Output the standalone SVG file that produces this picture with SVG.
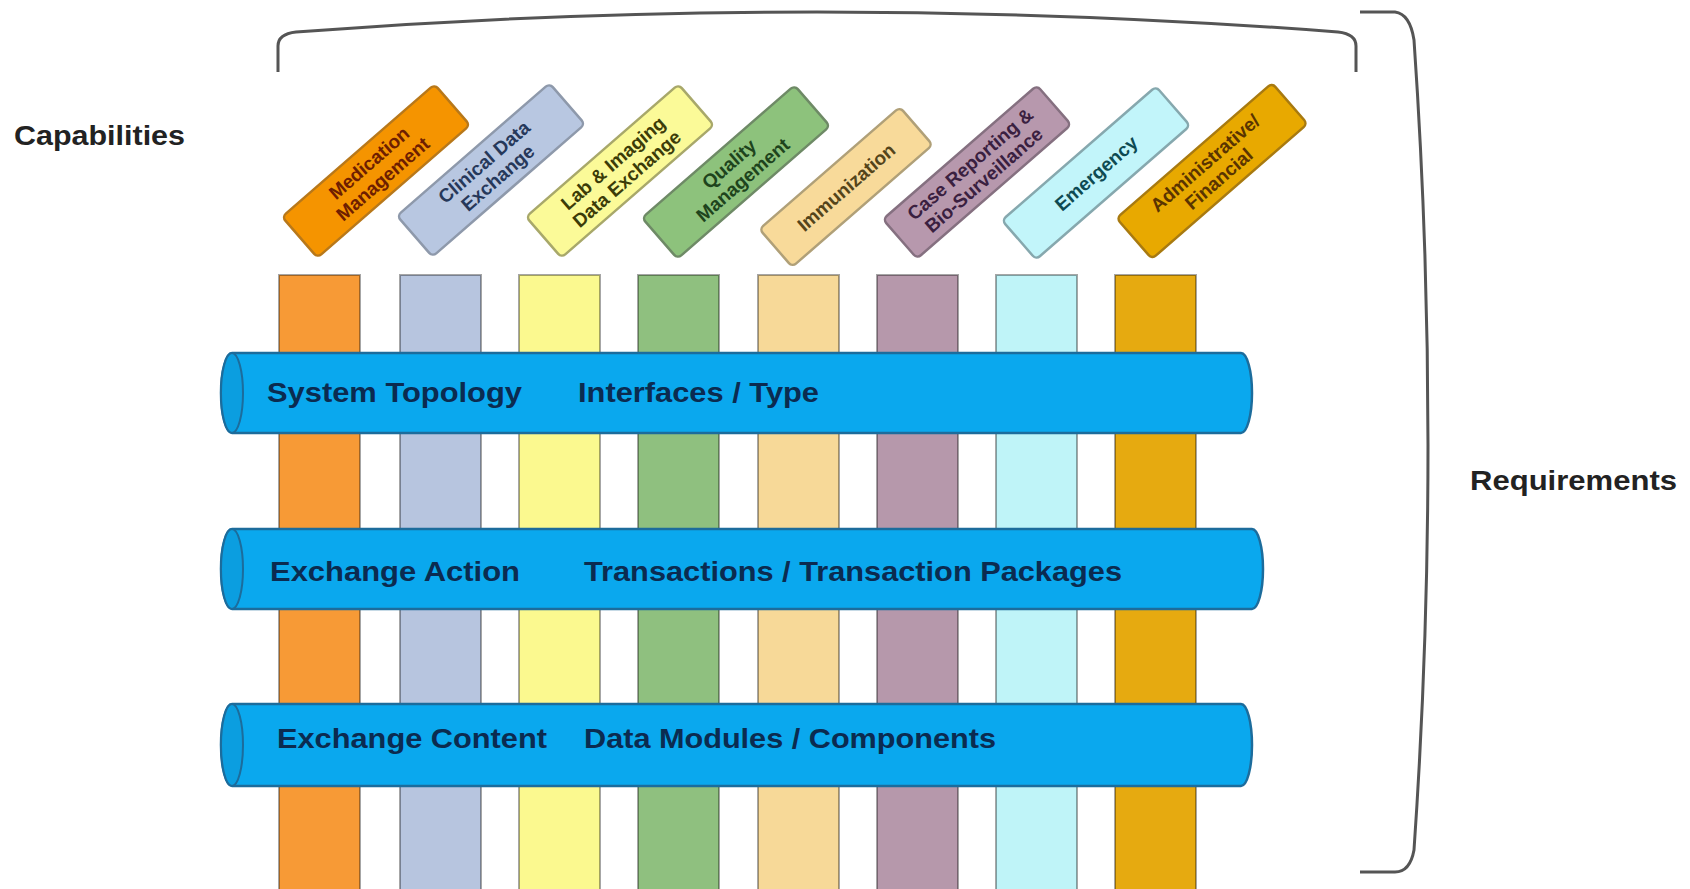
<svg xmlns="http://www.w3.org/2000/svg" width="1690" height="889" viewBox="0 0 1690 889">
<style>
.lbl{font-family:"Liberation Sans",Arial,sans-serif;font-weight:bold;font-size:28px;fill:#222}
.col{stroke:#000;stroke-opacity:0.35;stroke-width:2}
.tag{stroke-width:2.5}
.tt{font-family:"Liberation Sans",Arial,sans-serif;font-weight:bold;font-size:19px;text-anchor:middle}
.band{fill:#0aa8ee;stroke:#1c6c9c;stroke-width:2.5}
.cap{fill:#0b9ee0;stroke:#1c6c9c;stroke-width:2}
.bt{font-family:"Liberation Sans",Arial,sans-serif;font-weight:bold;font-size:28px;fill:#0b2b50}
.br{fill:none;stroke:#555;stroke-width:3}
</style>
<rect width="1690" height="889" fill="#fff"/>
<g id="labels">
<text class="lbl" x="14" y="145" textLength="171" lengthAdjust="spacingAndGlyphs">Capabilities</text>
<text class="lbl" x="1470" y="490" textLength="207" lengthAdjust="spacingAndGlyphs">Requirements</text>
</g>
<g id="brackets">
<path class="br" d="M278,72 V46 Q278,34 296,32 Q817,-8 1338,32 Q1356,34 1356,46 V72"/>
<path class="br" d="M1360,12 H1395 Q1410,14 1414,40 Q1442,445 1414,850 Q1410,872 1395,872 H1360"/>
</g>
<g id="cap-medication">
<rect class="col" x="279" y="275" width="81" height="620" fill="#f79a36"/>
<g transform="translate(376,171) rotate(-41)">
<rect class="tag" x="-101" y="-27" width="202" height="54" rx="5" fill="#f59400" stroke="#b8781a"/>
<text class="tt" y="-4" fill="#6e1e00">Medication</text>
<text class="tt" y="17" fill="#6e1e00">Management</text>
</g>
</g>
<g id="cap-clinical">
<rect class="col" x="400" y="275" width="81" height="620" fill="#b7c5df"/>
<g transform="translate(491,170) rotate(-41)">
<rect class="tag" x="-101" y="-27" width="202" height="54" rx="5" fill="#b8c7e1" stroke="#8e99ab"/>
<text class="tt" y="-4" fill="#26385a">Clinical Data</text>
<text class="tt" y="17" fill="#26385a">Exchange</text>
</g>
</g>
<g id="cap-lab">
<rect class="col" x="519" y="275" width="81" height="620" fill="#fbf98f"/>
<g transform="translate(620,171) rotate(-41)">
<rect class="tag" x="-101" y="-27" width="202" height="54" rx="5" fill="#fbfa98" stroke="#a8a86a"/>
<text class="tt" y="-4" fill="#3c3c08">Lab &amp; Imaging</text>
<text class="tt" y="17" fill="#3c3c08">Data Exchange</text>
</g>
</g>
<g id="cap-quality">
<rect class="col" x="638" y="275" width="81" height="620" fill="#8fc07f"/>
<g transform="translate(736,172) rotate(-41)">
<rect class="tag" x="-101" y="-27" width="202" height="54" rx="5" fill="#8dc27c" stroke="#6e8a66"/>
<text class="tt" y="-4" fill="#1e441c">Quality</text>
<text class="tt" y="17" fill="#1e441c">Management</text>
</g>
</g>
<g id="cap-immunization">
<rect class="col" x="758" y="275" width="81" height="620" fill="#f7d998"/>
<g transform="translate(846,187) rotate(-41)">
<rect class="tag" x="-93" y="-25" width="186" height="50" rx="5" fill="#f8da9a" stroke="#b0a078"/>
<text class="tt" y="7" fill="#54441a">Immunization</text>
</g>
</g>
<g id="cap-case">
<rect class="col" x="877" y="275" width="81" height="620" fill="#b698ab"/>
<g transform="translate(977,172) rotate(-41)">
<rect class="tag" x="-102" y="-26" width="204" height="52" rx="5" fill="#b798ad" stroke="#857080"/>
<text class="tt" y="-4" fill="#3a2040">Case Reporting &amp;</text>
<text class="tt" y="17" fill="#3a2040">Bio-Surveillance</text>
</g>
</g>
<g id="cap-emergency">
<rect class="col" x="996" y="275" width="81" height="620" fill="#bff4f8"/>
<g transform="translate(1096,173) rotate(-41)">
<rect class="tag" x="-102" y="-26" width="204" height="52" rx="5" fill="#c2f5fa" stroke="#86a8ae"/>
<text class="tt" y="7" fill="#0e4a52">Emergency</text>
</g>
</g>
<g id="cap-admin">
<rect class="col" x="1115" y="275" width="81" height="620" fill="#e6aa10"/>
<g transform="translate(1212,171) rotate(-41)">
<rect class="tag" x="-103" y="-27" width="206" height="54" rx="5" fill="#e8a900" stroke="#a87a10"/>
<text class="tt" y="-4" fill="#5a3400">Administrative/</text>
<text class="tt" y="17" fill="#5a3400">Financial</text>
</g>
</g>
<g id="band-topology">
<path class="band" d="M232,353 H1241 A11,40 0 0 1 1241,433 H232 A11,40 0 0 1 232,353 Z"/>
<ellipse class="cap" cx="232" cy="393" rx="11" ry="40"/>
<text class="bt" x="267" y="402" textLength="255" lengthAdjust="spacingAndGlyphs">System Topology</text>
<text class="bt" x="578" y="402" textLength="241" lengthAdjust="spacingAndGlyphs">Interfaces / Type</text>
</g>
<g id="band-action">
<path class="band" d="M232,529 H1252 A11,40 0 0 1 1252,609 H232 A11,40 0 0 1 232,529 Z"/>
<ellipse class="cap" cx="232" cy="569" rx="11" ry="40"/>
<text class="bt" x="270" y="581" textLength="250" lengthAdjust="spacingAndGlyphs">Exchange Action</text>
<text class="bt" x="584" y="581" textLength="538" lengthAdjust="spacingAndGlyphs">Transactions / Transaction Packages</text>
</g>
<g id="band-content">
<path class="band" d="M232,704 H1241 A11,41 0 0 1 1241,786 H232 A11,41 0 0 1 232,704 Z"/>
<ellipse class="cap" cx="232" cy="745" rx="11" ry="41"/>
<text class="bt" x="277" y="748" textLength="270" lengthAdjust="spacingAndGlyphs">Exchange Content</text>
<text class="bt" x="584" y="748" textLength="412" lengthAdjust="spacingAndGlyphs">Data Modules / Components</text>
</g>
<g id="connectors"/>
</svg>
